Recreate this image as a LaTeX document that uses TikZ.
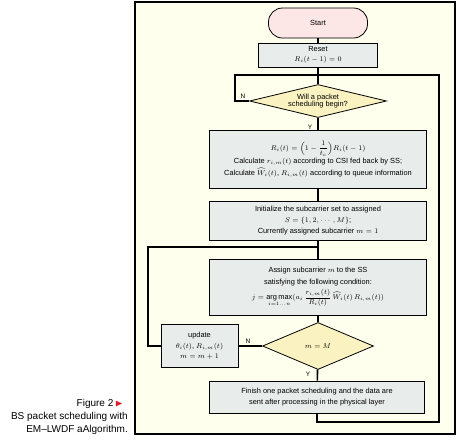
\documentclass[tikz,border=0pt]{standalone}
\usepackage{amsmath}
\usepackage{amssymb}
\usepackage{fontspec}
\setmainfont{Liberation Sans}
\usetikzlibrary{shapes.geometric, shapes.misc, positioning}

\definecolor{paper}{RGB}{255,255,238}
\definecolor{boxgrey}{RGB}{232,236,234}
\definecolor{startpink}{RGB}{252,230,230}
\definecolor{askyellow}{RGB}{250,242,192}
\definecolor{figred}{RGB}{220,30,40}

\begin{document}
\begin{tikzpicture}[x=1pt, y=-1pt,
  every node/.style={font=\fontsize{7.4}{11.3}\selectfont, align=center, inner sep=1pt},
  proc/.style={draw=black, fill=boxgrey, line width=0.8pt, minimum width=217pt},
  ask/.style={diamond, draw=black, fill=askyellow, line width=0.8pt, inner sep=0pt},
  flow/.style={line width=1.6pt},
  yn/.style={font=\fontsize{6.5}{8}\selectfont},
  caption/.style={font=\fontsize{10}{13}\selectfont, anchor=base east}]

\useasboundingbox (0,0) rectangle (457,440);
\draw[line width=1.6pt, fill=paper] (135,2) rectangle (455,434);  % frame

% flow chart boxes
\node[draw=black, fill=startpink, line width=0.8pt, rounded corners=14pt,
      minimum width=99pt, minimum height=30pt] (start) at (318,23) {Start};
\node[proc, minimum width=119pt, minimum height=24pt] (reset) at (318,55)
    {Reset\\[-1.5pt]$R_i(t-1)=0$};
\node[ask, minimum width=137pt, minimum height=33pt, aspect=4.15] (begin) at (318,101)
    {Will a packet\\[-3.5pt]scheduling begin?};
\node[proc, minimum height=58pt] (calc) at (318,159)
    {$R_i(t)=\Bigl(1-\dfrac{1}{t_c}\Bigr)R_i(t-1)$\\[0.5pt]
     Calculate $r_{i,m}(t)$ according to CSI fed back by SS;\\[1pt]
     Calculate $\widehat{W}_i(t)$, $R_{i,m}(t)$ according to queue information};
\node[proc, minimum height=39pt] (init) at (318,220.5)
    {Initialize the subcarrier set to assigned\\[0pt]
     $S=\{1,2,\cdots,M\}$;\\[0pt]
     Currently assigned subcarrier $m=1$};
\node[proc, minimum height=56pt] (assign) at (318,287)
    {Assign subcarrier $m$ to the SS\\
     satisfying the following condition:\\[2.5pt]
     $j=\mathop{\arg\max}\limits_{i=1\ldots n}(a_i\,\dfrac{r_{i,m}(t)}{R_i(t)}\,\widehat{W}_i(t)\,R_{i,m}(t))$};
\node[ask, minimum width=111pt, minimum height=47pt, aspect=2.36] (last) at (318,346) {$m=M$};
\node[proc, minimum width=77pt, minimum height=43pt] (update) at (199.5,346)
    {update\\[-1pt]$\theta_i(t)$, $R_{i,m}(t)$\\[-1pt]$m=m+1$};
\node[proc, minimum width=215pt, minimum height=32pt] (finish) at (317,397)
    {Finish one packet scheduling and the data are\\[0.5pt]
     sent after processing in the physical layer};

% loop corners
\coordinate (topleft) at (235,75);
\coordinate (topright) at (439,75);
\coordinate (botright) at (439,422);
\coordinate (backleft) at (148,247);

\draw[flow] (start) -- (reset);
\draw[flow] (reset) -- (begin);
\draw[flow] (begin) -- (calc);
\draw[flow] (calc) -- (init);
\draw[flow] (init) -- (assign);
\draw[flow] (assign) -- (last);
\draw[flow] (last) -- (finish);
\draw[flow] (last) -- (update);
\draw[flow] (begin.west) -| (topleft) -- (topright) -- (botright) -| (finish.south);
\draw[flow] (update.west) -| (backleft) -- (backleft -| assign.north);

\node[yn] (n1) at (243,96) {N};
\node[yn] (y1) at (310,127) {Y};
\node[yn] (n2) at (248,341) {N};
\node[yn] (y2) at (308,374) {Y};

% caption
\node[caption] (fig) at (124,406.5) {Figure 2\,\textcolor{figred}{$\blacktriangleright$}};
\node[caption] (cap1) at (129,419.5) {BS packet scheduling with};
\node[caption] (cap2) at (129,432) {EM--LWDF aAlgorithm.};

\end{tikzpicture}
\end{document}
